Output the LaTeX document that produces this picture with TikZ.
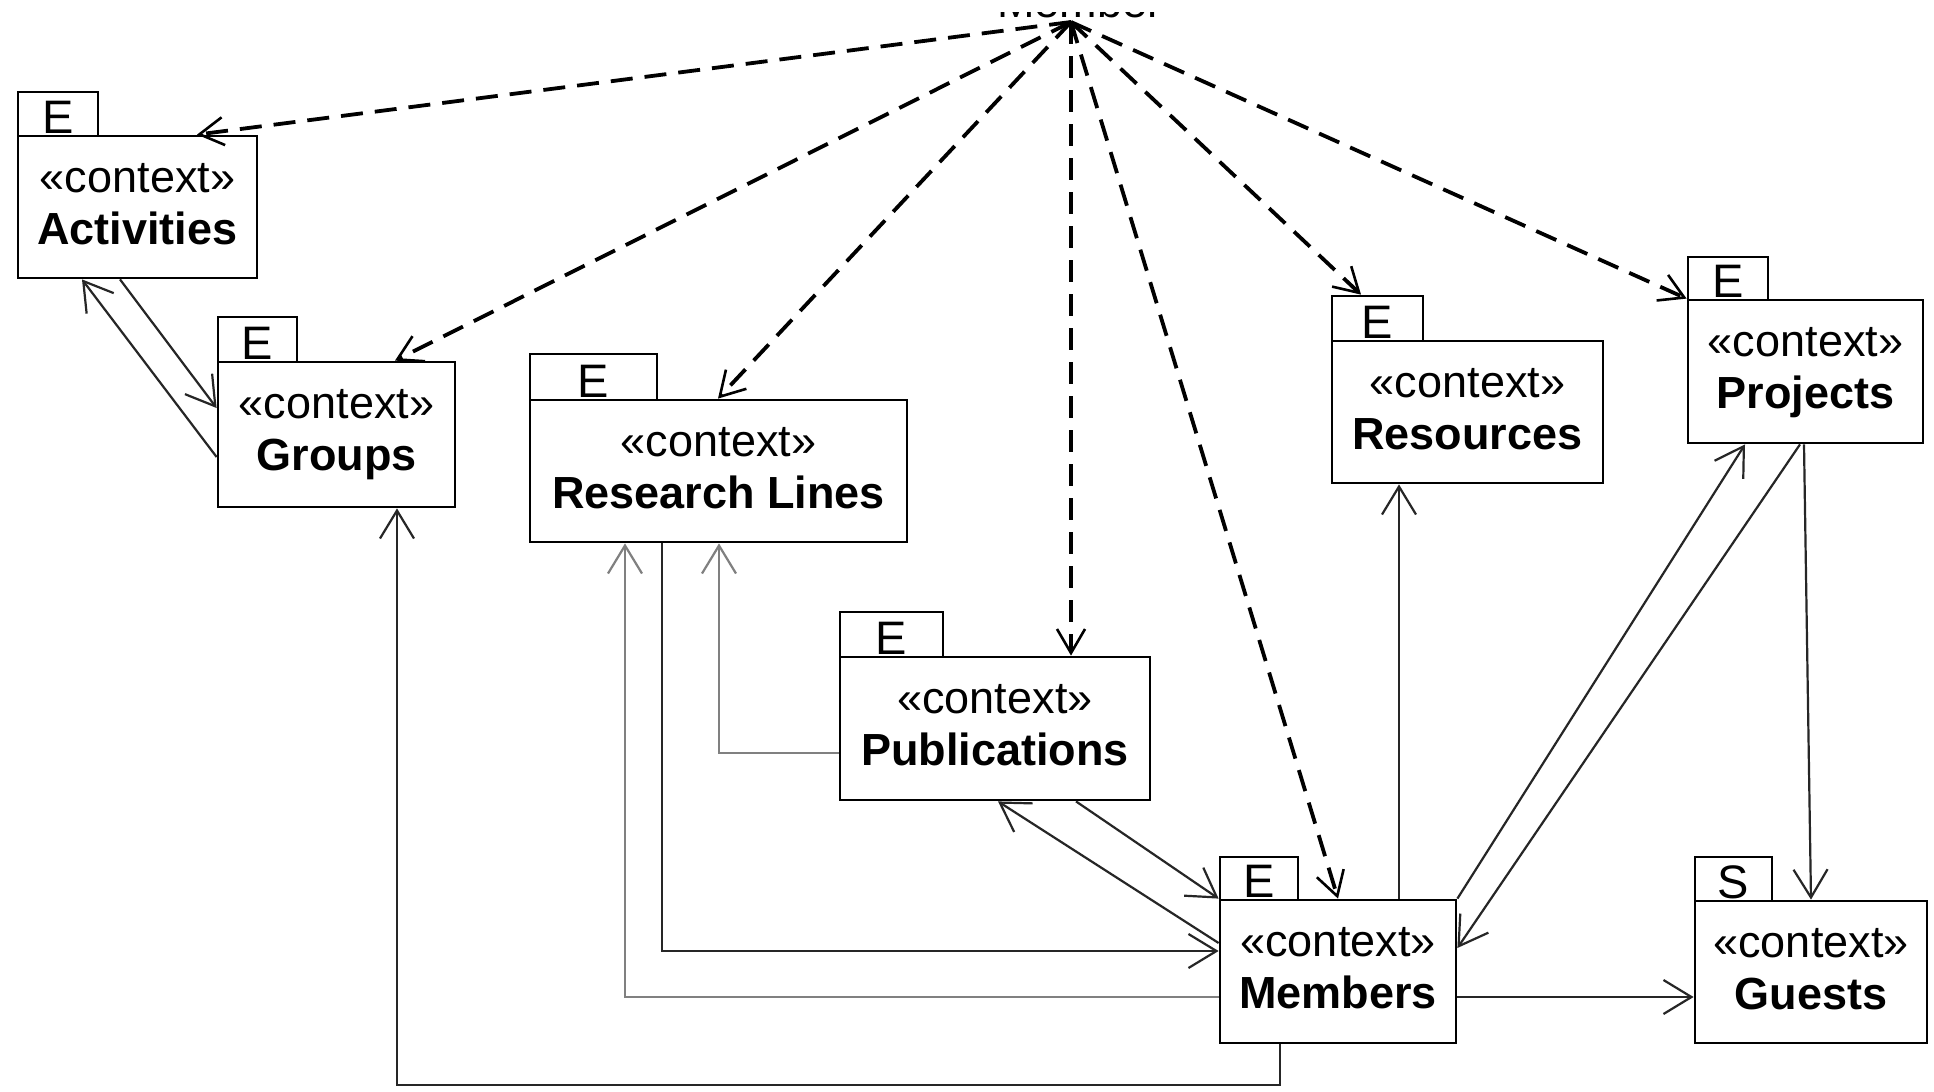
\documentclass[tikz,border=0pt]{standalone}
\usepackage{fontspec}
\setmainfont{Liberation Sans}
\usetikzlibrary{arrows.meta,fit,calc}
\tikzset{
  ctxframe/.style={draw, line width=1.4pt, inner sep=0pt, fill=white},
  sttext/.style={anchor=base, inner sep=0pt, font=\fontsize{22.5}{26}\selectfont},
  nmtext/.style={anchor=base, inner sep=0pt, font=\fontsize{22.5}{26}\selectfont\bfseries},
  tabtext/.style={anchor=base, inner sep=0pt, font=\fontsize{23.5}{26}\selectfont},
  conn/.style={draw=black!85, line width=1.1pt, -{Straight Barb[length=14pt,width=17pt,line width=1.1pt]}},
  lconn/.style={conn, draw=black!50},
  dep/.style={draw, line width=1.9pt, dash pattern=on 11pt off 6pt, -{Straight Barb[length=12pt,width=14pt,line width=1.3pt]}}
}
% #1 name, #2 x1, #3 y1 (box top), #4 x2, #5 y2, #6 tab right, #7 tab top, #8 tab letter, #9 title
\newcommand\ctxbox[9]{%
  \node[ctxframe, fit={(#2,#3) (#4,#5)}] (#1) {};
  \node[ctxframe, fit={(#2,#7) (#6,#3)}] (#1-tab) {};
  \node[tabtext] (#1-tl) at (#1-tab.center |- 0,#3-3) {#8};
  \node[sttext] (#1-st) at ($(#1.north)+(0,58)$) {«context»};
  \node[nmtext] (#1-nm) at ($(#1.north)+(0,110)$) {#9};
}
\begin{document}
\begin{tikzpicture}[x=0.5pt,y=-0.5pt]
\fill[white] (0,0) rectangle (1934,1092);
\useasboundingbox (0,0) rectangle (1934,1092);

\begin{scope}
  \clip (900,12) rectangle (1250,40);
  \node[sttext] (member) at (1080,18) {Member};
\end{scope}
\coordinate (hub) at (1071,22);

\ctxbox{act}{18}{136}{257}{278}{98}{92}{E}{Activities}
\ctxbox{grp}{218}{362}{455}{507}{297}{317}{E}{Groups}
\ctxbox{res}{530}{400}{907}{542}{657}{354}{E}{Research Lines}
\ctxbox{pub}{840}{657}{1150}{800}{943}{612}{E}{Publications}
\ctxbox{rsc}{1332}{341}{1603}{483}{1423}{296}{E}{Resources}
\ctxbox{prj}{1688}{300}{1923}{443}{1768}{257}{E}{Projects}
\ctxbox{mem}{1220}{900}{1456}{1043}{1298}{857}{E}{Members}
\ctxbox{gst}{1695}{901}{1927}{1043}{1772}{857}{S}{Guests}

% dependencies from Member
\draw[dep] (hub) -- (197,0 |- act.north);
\draw[dep] (hub) -- (395,0 |- grp.north);
\draw[dep] (hub) -- (718,0 |- res.north);
\draw[dep] (hub) -- (1071,0 |- pub.north);
\draw[dep] (hub) -- (1338,0 |- mem.north);
\draw[dep] (hub) -- (1361,0 |- rsc-tab.north);
\draw[dep] (hub) -- (prj.north west);

% associations
\draw[conn] (120,0 |- act.south) -- (grp.west |- 0,408);
\draw[conn] (grp.west |- 0,457) -- (82,0 |- act.south);
\draw[conn] (1280,0 |- mem.south) -- (1280,1085) -| (397,0 |- grp.south);
\draw[conn] (662,0 |- res.south) |- (mem.west |- 0,951);
\draw[lconn] (mem.west |- 0,997) -| (625,0 |- res.south);
\draw[lconn] (pub.west |- 0,753) -| (719,0 |- res.south);
\draw[conn] (1076,0 |- pub.south) -- (mem.north west);
\draw[conn] (mem.west |- 0,943) -- (998,0 |- pub.south);
\draw[conn] (1399,0 |- mem.north) -- (1399,0 |- rsc.south);
\draw[conn] (mem.north east) -- (1745,0 |- prj.south);
\draw[conn] (1800,0 |- prj.south) -- (mem.east |- 0,948);
\draw[conn] (1804,0 |- prj.south) -- (1811,0 |- gst.north);
\draw[conn] (mem.east |- 0,997) -- (gst.west |- 0,997);
\end{tikzpicture}
\end{document}
